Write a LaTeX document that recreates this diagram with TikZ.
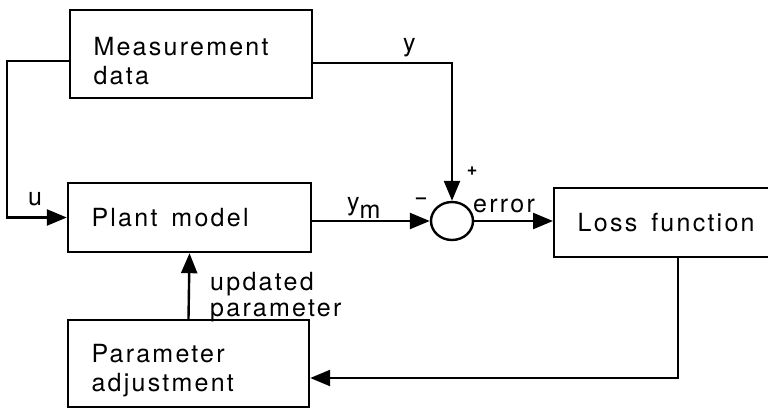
\documentclass[tikz,border=0pt]{standalone}
\usepackage{fontspec}
\setmainfont[LetterSpace=9]{TeX Gyre Heros}
\usetikzlibrary{arrows.meta,positioning,shapes.geometric}

\newcommand{\topstrut}{\rule{0pt}{32pt}}

\tikzset{
	blk/.style={draw, line width=2.4pt, align=left, inner xsep=23.5pt, inner ysep=0pt,
		font=\fontsize{25}{29}\selectfont},
	wire/.style={line width=2.4pt},
	arr/.style={wire, -{Triangle[length=20pt,width=16pt]}},
	lab/.style={inner sep=0pt, font=\fontsize{25}{26}\selectfont},
	sgn/.style={inner sep=0pt, font=\fontsize{18}{18}\selectfont\bfseries},
}

\begin{document}
\begin{tikzpicture}[x=1pt,y=-1pt]
	\useasboundingbox (0,0) rectangle (768,409);

	% blocks
	\node[blk, text width=195pt, minimum height=88pt] (meas) at (191,54) {\topstrut Measurement\\data};
	\node[blk, text width=196pt, minimum height=69pt] (plant) at (189.5,217.5) {Plant\hspace{14pt}model};
	\node[blk, text width=194pt, minimum height=87pt] (param) at (188.5,363.5) {\topstrut Parameter\\adjustment};
	\node[blk, text width=200pt, minimum height=69pt, anchor=west] (loss) at (553,222.5) {Loss\hspace{14pt}function};
	%% summing point
	\node[draw, wire, ellipse, minimum width=42pt, minimum height=38pt, inner sep=0pt] (sum) at (452,221) {};

	% connections
	\draw[arr] ([yshift=-7pt]meas.west) -- ++(-62,0) |- (plant.west);
	\draw[arr] ([yshift=-9pt]meas.east) -| (sum.north);
	\draw[arr] (plant.east |- sum.west) -- (sum.west);
	\draw[arr] (sum.east) -- (loss.west |- sum.east);
	\draw[arr] (loss.south) |- ([yshift=-14.5pt]param.east);
	\draw[arr] (param.north) -- (plant.south);

	% labels
	\node[lab, anchor=base west] (ylab) at (403,52) {y};
	\node[lab, anchor=base west] (ulab) at (28,205) {u};
	\node[lab, anchor=base west] (ymlab) at (347,210) {y\raisebox{-8pt}{m}};
	\node[sgn] (minus) at (421,201) {--};
	\node[sgn] (plus) at (472,171) {+};
	\node[lab, anchor=base west] (errlab) at (473,212) {error};
	\node[lab, anchor=base west, text width=140pt, align=left] (updlab) at (210,290) {updated\\parameter};
\end{tikzpicture}
\end{document}
